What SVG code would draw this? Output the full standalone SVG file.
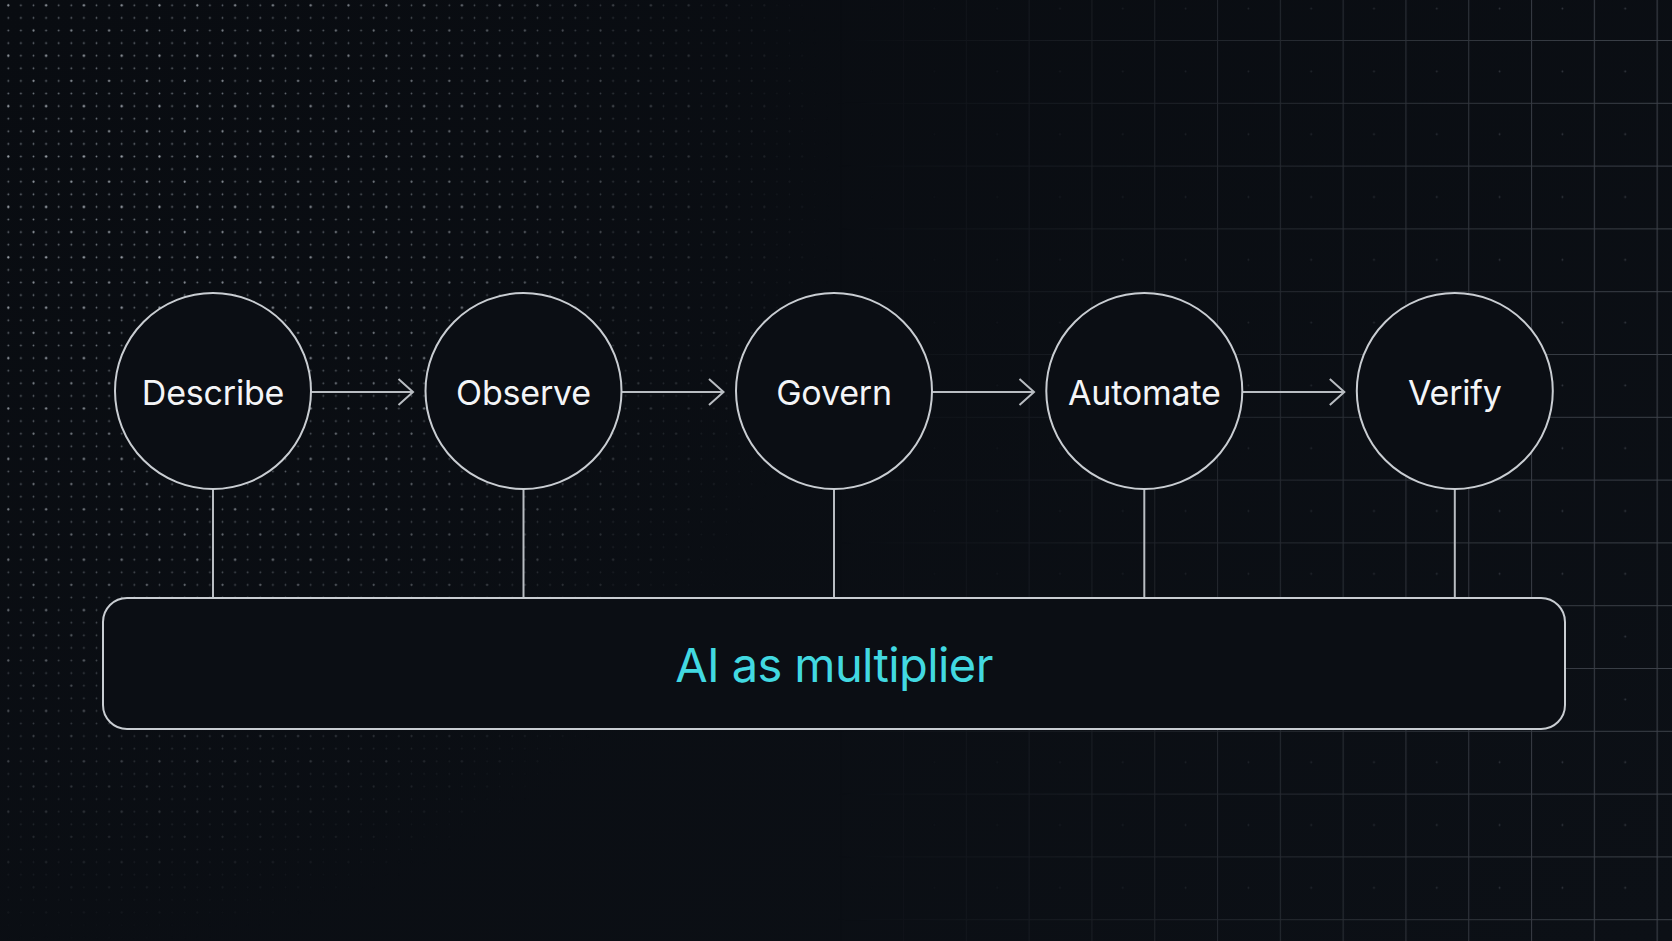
<svg xmlns="http://www.w3.org/2000/svg" width="1672" height="941" viewBox="0 0 1672 941">
  <defs>
    <style>
      .node circle { fill: #0b0e14; stroke: #c9cdd2; stroke-width: 2; }
      .node text { font-family: Inter, "Liberation Sans", sans-serif; font-size: 34px; fill: #f4f5f7; text-anchor: middle; letter-spacing: -0.2px; }
      .conn line, .conn path { stroke: #b9bdc2; stroke-width: 2; fill: none; }
      .bar rect { fill: #0b0e14; stroke: #c9cdd2; stroke-width: 2; }
      .bar text { font-family: Inter, "Liberation Sans", sans-serif; font-size: 47px; fill: #42d9e1; text-anchor: middle; letter-spacing: -0.6px; }
    </style>
    <linearGradient id="bg" x1="0" y1="0" x2="1" y2="1">
      <stop offset="0" stop-color="#090c11"/>
      <stop offset="1" stop-color="#0c1016"/>
    </linearGradient>
    <pattern id="grid" x="-39" y="-22.8" width="62.8" height="62.8" patternUnits="userSpaceOnUse">
      <path d="M0 0.5 H62.8 M0.5 0 V62.8" stroke="#3d424a" stroke-width="1.2" fill="none"/>
      <circle cx="31.4" cy="31.4" r="0.9" fill="#3a3f47"/>
    </pattern>
    <pattern id="dots" x="2" y="-1" width="12.6" height="12.6" patternUnits="userSpaceOnUse">
      <circle cx="6.3" cy="6.3" r="0.9" fill="#767c85"/>
    </pattern>
    <pattern id="dots2" x="2" y="-1" width="37.8" height="50.4" patternUnits="userSpaceOnUse">
      <circle cx="6.3" cy="6.3" r="1.1" fill="#a7adb5"/>
      <circle cx="31.5" cy="31.5" r="1" fill="#959ba3"/>
    </pattern>
    <linearGradient id="gridFade" x1="0" y1="0" x2="1" y2="0">
      <stop offset="0.5" stop-color="#fff" stop-opacity="0"/>
      <stop offset="0.75" stop-color="#fff" stop-opacity="0.5"/>
      <stop offset="1" stop-color="#fff" stop-opacity="1"/>
    </linearGradient>
    <radialGradient id="dotFade" cx="0.05" cy="0.2" r="0.45" gradientUnits="objectBoundingBox" gradientTransform="translate(0.05 0.2) scale(1 1.8) translate(-0.05 -0.2)">
      <stop offset="0" stop-color="#fff" stop-opacity="1"/>
      <stop offset="0.55" stop-color="#fff" stop-opacity="0.6"/>
      <stop offset="1" stop-color="#fff" stop-opacity="0"/>
    </radialGradient>
    <mask id="gridMask" maskUnits="userSpaceOnUse" x="0" y="0" width="1672" height="941">
      <rect width="1672" height="941" fill="url(#gridFade)"/>
    </mask>
    <mask id="dotMask" maskUnits="userSpaceOnUse" x="0" y="0" width="1672" height="941">
      <rect width="1672" height="941" fill="url(#dotFade)"/>
    </mask>
  </defs>

  <g id="background">
    <rect width="1672" height="941" fill="url(#bg)"/>
    <rect width="1672" height="941" fill="url(#grid)" mask="url(#gridMask)"/>
    <g mask="url(#dotMask)">
      <rect width="1672" height="941" fill="url(#dots)"/>
      <rect width="1672" height="941" fill="url(#dots2)"/>
    </g>
  </g>

  <g id="connectors" class="conn">
    <line x1="311" y1="392" x2="413" y2="392"/>
    <path d="M398.5 379 L413 392 L398.5 405"/>
    <line x1="621.5" y1="392" x2="723.5" y2="392"/>
    <path d="M709 379 L723.5 392 L709 405"/>
    <line x1="932" y1="392" x2="1034" y2="392"/>
    <path d="M1019.5 379 L1034 392 L1019.5 405"/>
    <line x1="1242.3" y1="392" x2="1344.3" y2="392"/>
    <path d="M1329.8 379 L1344.3 392 L1329.8 405"/>
    <line x1="213" y1="489" x2="213" y2="598"/>
    <line x1="523.5" y1="489" x2="523.5" y2="598"/>
    <line x1="834" y1="489" x2="834" y2="598"/>
    <line x1="1144.3" y1="489" x2="1144.3" y2="598"/>
    <line x1="1454.8" y1="489" x2="1454.8" y2="598"/>
  </g>

  <g id="node-describe" class="node">
    <circle cx="213" cy="391" r="98"/>
    <text x="213" y="405">Describe</text>
  </g>
  <g id="node-observe" class="node">
    <circle cx="523.5" cy="391" r="98"/>
    <text x="523.5" y="405">Observe</text>
  </g>
  <g id="node-govern" class="node">
    <circle cx="834" cy="391" r="98"/>
    <text x="834" y="405">Govern</text>
  </g>
  <g id="node-automate" class="node">
    <circle cx="1144.3" cy="391" r="98"/>
    <text x="1144.3" y="405">Automate</text>
  </g>
  <g id="node-verify" class="node">
    <circle cx="1454.8" cy="391" r="98"/>
    <text x="1454.8" y="405">Verify</text>
  </g>

  <g id="node-ai-multiplier" class="bar">
    <rect x="103" y="598" width="1462" height="131" rx="24" ry="24"/>
    <text x="834" y="682">AI as multiplier</text>
  </g>
</svg>
